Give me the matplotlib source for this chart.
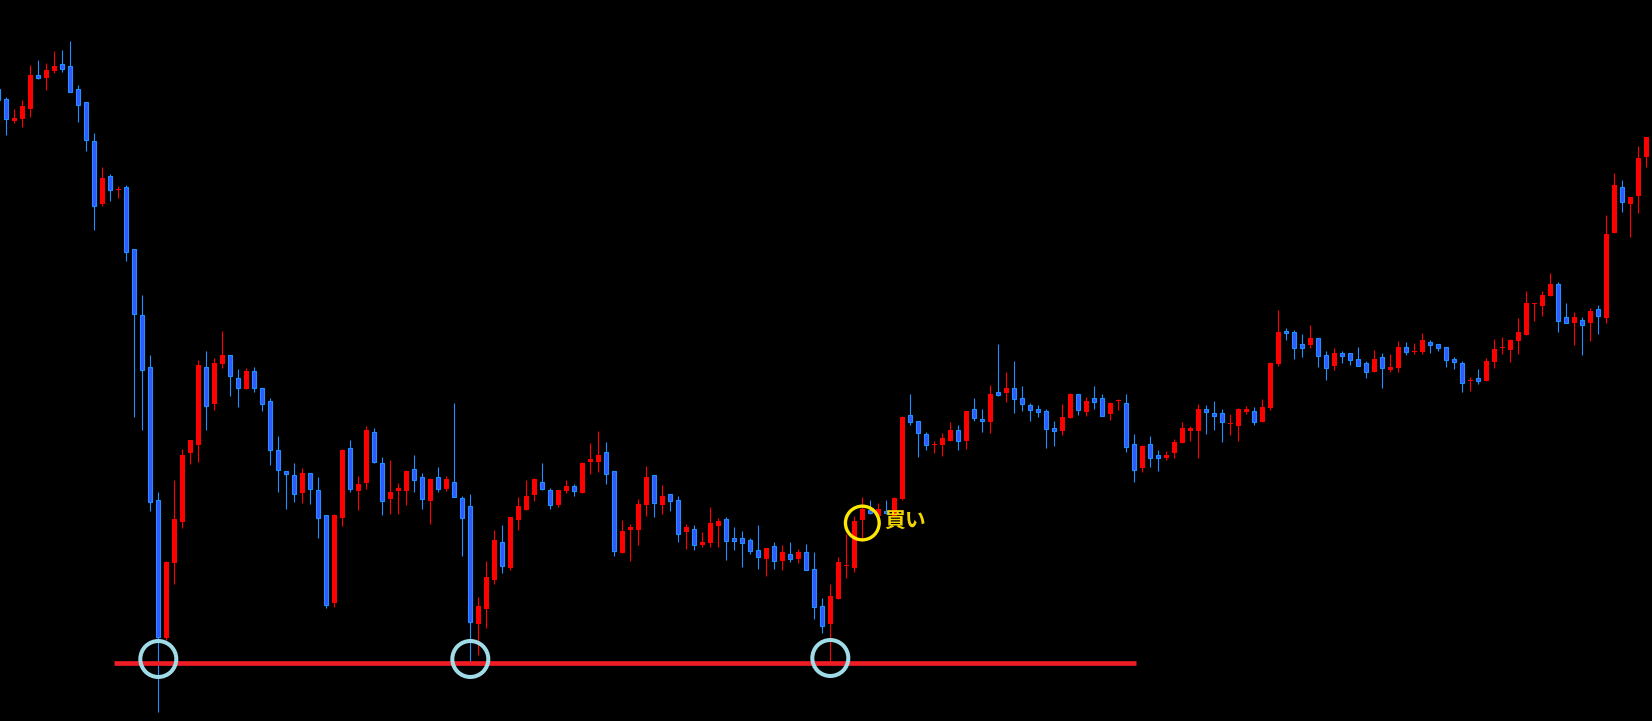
import matplotlib.pyplot as plt
import numpy as np

# OHLC (price in chart points)
open_ = [632, 622, 600, 602, 612, 646, 643, 650, 657, 655, 632, 619, 580, 517, 545, 531, 534, 472, 406, 354,
         221, 83, 158, 199, 268, 276, 354, 317, 357, 366, 343, 332, 350, 333, 320, 271, 250, 246, 228, 248,
         231, 206, 118, 203, 273, 230, 238, 289, 258, 222, 230, 230, 252, 244, 220, 244, 232, 239, 223, 215,
         97, 112, 141, 179, 153, 201, 211, 226, 239, 231, 216, 230, 235, 228, 259, 259, 269, 250, 168, 191,
         191, 216, 246, 216, 227, 221, 189, 192, 176, 178, 195, 202, 183, 183, 181, 171, 162, 175, 160, 167,
         162, 169, 152, 115, 97, 122, 155, 153, 201, 211, 205, 210, 205, 222, 306, 300, 287, 276, 276, 280,
         291, 280, 312, 302, 299, 329, 328, 333, 323, 316, 312, 310, 293, 290, 303, 327, 309, 323, 323, 307,
         320, 318, 277, 253, 277, 266, 263, 268, 278, 290, 290, 312, 308, 308, 297, 295, 309, 310, 299, 313,
         357, 390, 389, 377, 376, 383, 366, 355, 368, 368, 362, 358, 349, 364, 351, 353, 374, 369, 369, 379,
         377, 374, 362, 358, 340, 343, 340, 359, 373, 371, 380, 386, 417, 415, 425, 437, 404, 398, 401, 398,
         412, 403, 488, 534, 517, 525, 564]
high = [636, 624, 612, 621, 656, 661, 658, 670, 671, 680, 636, 619, 588, 554, 547, 535, 536, 472, 426, 366,
        229, 160, 241, 272, 281, 361, 370, 363, 390, 366, 352, 353, 354, 333, 323, 285, 250, 258, 253, 248,
        244, 206, 207, 272, 281, 245, 295, 293, 264, 261, 238, 251, 266, 248, 243, 254, 245, 318, 225, 227,
        124, 160, 191, 196, 204, 224, 241, 243, 258, 233, 231, 241, 237, 259, 278, 290, 279, 250, 201, 197,
        222, 255, 246, 236, 227, 225, 197, 196, 189, 214, 203, 204, 194, 190, 183, 196, 173, 179, 176, 179,
        172, 177, 169, 123, 137, 164, 187, 205, 224, 221, 218, 221, 224, 305, 327, 300, 289, 280, 288, 299,
        296, 310, 323, 312, 336, 377, 349, 360, 335, 318, 316, 312, 300, 317, 328, 327, 324, 335, 327, 319,
        322, 327, 287, 276, 285, 271, 270, 282, 299, 295, 317, 316, 320, 312, 307, 313, 315, 314, 322, 359,
        411, 393, 391, 387, 396, 383, 370, 373, 370, 368, 374, 360, 371, 368, 367, 380, 379, 378, 388, 381,
        377, 374, 364, 360, 344, 352, 363, 382, 384, 382, 403, 430, 418, 430, 448, 439, 418, 409, 404, 413,
        416, 506, 548, 541, 524, 575, 584]
low = [616, 586, 598, 594, 604, 642, 631, 648, 649, 629, 599, 570, 491, 515, 520, 523, 460, 304, 291, 210,
       9, 81, 137, 193, 257, 259, 291, 311, 353, 325, 314, 332, 329, 310, 256, 229, 212, 219, 218, 217,
       183, 113, 114, 195, 229, 211, 232, 258, 206, 207, 207, 216, 229, 212, 197, 229, 230, 224, 165, 59,
       66, 93, 137, 148, 151, 191, 211, 220, 231, 212, 214, 228, 225, 228, 247, 249, 237, 165, 168, 160,
       176, 205, 204, 207, 210, 179, 172, 171, 174, 174, 174, 161, 171, 154, 167, 152, 145, 152, 151, 159,
       158, 151, 102, 88, 59, 122, 143, 149, 180, 207, 205, 207, 204, 221, 296, 264, 271, 268, 265, 280,
       271, 272, 300, 289, 288, 325, 319, 308, 310, 300, 304, 273, 275, 286, 303, 306, 305, 312, 305, 301,
       311, 269, 239, 249, 254, 250, 261, 263, 278, 280, 263, 287, 291, 279, 286, 280, 307, 296, 299, 311,
       355, 381, 362, 364, 373, 354, 341, 351, 358, 356, 355, 343, 349, 333, 349, 349, 366, 367, 367, 368,
       370, 354, 352, 329, 330, 337, 340, 353, 367, 359, 367, 386, 400, 405, 425, 389, 398, 376, 366, 380,
       387, 398, 488, 509, 484, 508, 554]
close = [621, 602, 603, 615, 646, 643, 651, 655, 652, 629, 616, 581, 515, 543, 531, 532, 469, 407, 351, 219,
         84, 159, 202, 266, 281, 356, 315, 358, 366, 345, 333, 350, 333, 317, 271, 251, 247, 227, 248, 232,
         203, 116, 206, 271, 232, 237, 291, 259, 220, 229, 233, 250, 241, 222, 242, 232, 242, 224, 203, 99,
         115, 144, 181, 155, 204, 215, 225, 242, 232, 216, 231, 235, 230, 258, 262, 266, 247, 170, 190, 194,
         217, 244, 218, 225, 220, 187, 194, 176, 179, 198, 200, 180, 180, 178, 170, 164, 173, 160, 169, 162,
         169, 151, 114, 95, 125, 159, 156, 200, 212, 208, 212, 208, 223, 304, 299, 288, 276, 277, 283, 291,
         280, 310, 303, 300, 327, 326, 333, 322, 317, 311, 309, 292, 290, 304, 327, 311, 320, 319, 305, 318,
         321, 274, 251, 275, 263, 263, 266, 279, 293, 293, 312, 309, 305, 299, 298, 312, 312, 299, 314, 358,
         389, 388, 373, 373, 383, 365, 353, 368, 365, 361, 355, 349, 362, 353, 354, 374, 369, 370, 381, 376,
         373, 361, 359, 338, 341, 340, 360, 372, 374, 381, 389, 418, 418, 426, 437, 400, 398, 404, 396, 410,
         405, 487, 536, 519, 524, 563, 584]

support_level = 58
support_start, support_end = 14.5, 142.2
bottom_idx = [20, 59, 104]
bottom_levels = [62, 62, 63]
buy_idx, buy_level = 108, 198
buy_label = '買い'

o = np.array(open_)
h = np.array(high)
l = np.array(low)
c = np.array(close)
x = np.arange(len(c))
up = c >= o
dn = ~up

fig = plt.figure(figsize=(16.52, 7.21), dpi=100)
fig.patch.set_facecolor('black')
ax = fig.add_axes([0, 0, 1, 1])
ax.set_facecolor('black')

ax.vlines(x[up], l[up], h[up], color='#FF0000', lw=0.8, zorder=2)
ax.vlines(x[dn], l[dn], h[dn], color='#1E90FF', lw=0.8, zorder=2)
ax.bar(x[up], np.maximum(c - o, 1)[up], bottom=o[up], width=0.625,
       color='#FF0000', lw=0, zorder=3)
ax.bar(x[dn], np.maximum(o - c, 1)[dn], bottom=c[dn], width=0.5,
       color='#3358FF', edgecolor='#1E90FF', lw=0.8, zorder=3)

ax.plot([support_start, support_end], [support_level, support_level],
        color='#EE1C25', lw=3.4, solid_capstyle='butt', zorder=4)
ax.scatter(bottom_idx, bottom_levels, s=671, facecolors='none',
           edgecolors='#9FDCE8', linewidths=2.9, zorder=5)
ax.scatter([buy_idx], [buy_level], s=589, facecolors='none',
           edgecolors='#FFE800', linewidths=2.4, zorder=5)
ax.text(buy_idx + 2.8, buy_level + 2, buy_label, color='#F2D500', fontsize=15,
        fontweight='bold', family=['Noto Sans CJK JP', 'DejaVu Sans'],
        va='center', ha='left', zorder=6)

ax.set_xlim(0.2125, 206.71)
ax.set_ylim(0, 721)
ax.axis('off')

fig.savefig('out.png', dpi=100, facecolor='black')
